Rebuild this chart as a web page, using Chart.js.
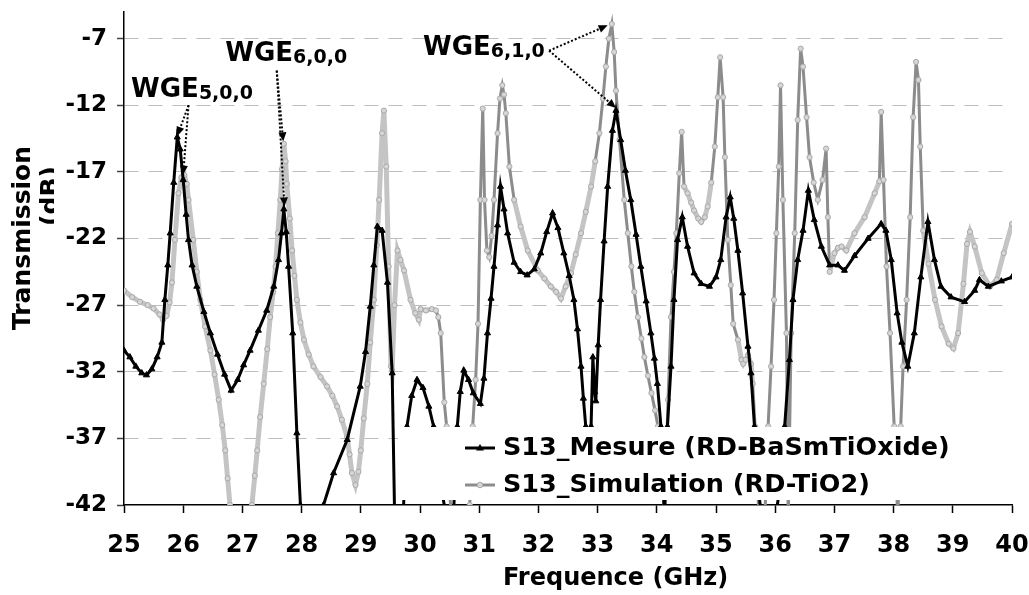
<!DOCTYPE html>
<html>
<head>
<meta charset="utf-8">
<script src="https://cdn.jsdelivr.net/npm/chart.js@4.4.1/dist/chart.umd.min.js"></script>
<style>
  body { margin: 0; background: #fff; }
  canvas { display: block; }
</style>
</head>
<body>
<canvas id="s13-chart" width="1029" height="595"></canvas>
<script>
var mesureFreq = [
    25.00, 25.10, 25.20, 25.30, 25.38, 25.47, 25.56, 25.64, 25.69, 25.74,
    25.78, 25.84, 25.90, 25.95, 26.00, 26.05, 26.09, 26.15, 26.23, 26.35,
    26.46, 26.58, 26.70, 26.81, 26.92, 27.02, 27.13, 27.27, 27.41, 27.53,
    27.61, 27.66, 27.70, 27.74, 27.78, 27.85, 27.92, 27.98, 28.10, 28.25,
    28.37, 28.54, 28.77, 28.99, 29.08, 29.16, 29.22, 29.28, 29.36, 29.45,
    29.53, 29.57, 29.65, 29.72, 29.78, 29.86, 29.95, 30.05, 30.15, 30.23,
    30.33, 30.43, 30.50, 30.57, 30.63, 30.68, 30.74, 30.82, 30.90, 31.02,
    31.08, 31.14, 31.20, 31.25, 31.31, 31.36, 31.42, 31.48, 31.59, 31.70,
    31.81, 31.93, 32.04, 32.14, 32.24, 32.33, 32.43, 32.52, 32.60, 32.66,
    32.72, 32.76, 32.80, 32.84, 32.89, 32.92, 32.95, 32.97, 33.01, 33.05,
    33.11, 33.17, 33.25, 33.31, 33.39, 33.47, 33.56, 33.65, 33.73, 33.82,
    33.90, 33.96, 34.01, 34.07, 34.13, 34.18, 34.24, 34.29, 34.35, 34.43,
    34.52, 34.63, 34.75, 34.89, 35.00, 35.08, 35.17, 35.24, 35.30, 35.37,
    35.45, 35.54, 35.59, 35.65, 35.72, 35.80, 35.92, 36.02, 36.10, 36.16,
    36.24, 36.30, 36.38, 36.47, 36.56, 36.66, 36.78, 36.92, 37.06, 37.17,
    37.34, 37.57, 37.79, 37.87, 37.96, 38.06, 38.14, 38.24, 38.35, 38.46,
    38.58, 38.69, 38.80, 38.97, 39.20, 39.37, 39.45, 39.60, 39.82, 40.00
];
var mesureDb = [
    -30.4, -30.9, -31.6, -32.1, -32.25, -31.8, -30.9, -29.8, -26.6, -24.0,
    -21.6, -17.8, -14.4, -15.3, -17.6, -20.2, -22.1, -24.0, -25.6, -27.5,
    -29.1, -30.7, -32.2, -33.4, -32.6, -31.5, -30.4, -28.9, -27.4, -25.6,
    -23.6, -21.6, -19.8, -21.5, -24.1, -29.1, -36.6, -42.0, -46.0, -46.0,
    -42.0, -39.6, -37.1, -33.1, -30.5, -27.1, -24.0, -21.1, -21.4, -25.3,
    -32.1, -42.5, -45.0, -42.3, -36.1, -33.8, -32.6, -33.2, -34.6, -36.1,
    -40.0, -42.5, -44.0, -42.3, -36.1, -33.5, -31.9, -32.6, -33.6, -34.4,
    -32.5, -29.1, -26.5, -24.1, -21.0, -18.1, -19.8, -21.6, -23.8, -24.5,
    -24.75, -24.3, -23.1, -21.5, -20.1, -21.2, -23.1, -24.8, -26.6, -28.8,
    -31.6, -34.0, -36.1, -41.0, -36.1, -30.9, -33.5, -34.2, -30.0, -26.6,
    -22.2, -18.1, -13.9, -12.4, -14.6, -16.9, -19.1, -21.7, -24.1, -26.7,
    -29.1, -31.0, -32.9, -36.1, -43.0, -36.1, -31.6, -26.6, -22.1, -20.4,
    -22.6, -24.6, -25.4, -25.6, -24.9, -23.6, -20.4, -18.9, -20.5, -22.9,
    -26.1, -30.1, -32.1, -36.1, -41.0, -44.0, -46.0, -42.5, -40.0, -36.1,
    -31.1, -26.6, -23.6, -21.4, -18.4, -20.6, -22.6, -24.0, -24.0, -24.4,
    -23.3, -22.0, -20.9, -21.4, -23.6, -27.6, -29.8, -31.6, -29.1, -24.9,
    -20.75, -23.6, -25.6, -26.4, -26.75, -25.9, -25.1, -25.6, -25.2, -24.9
];

// S13 simulated (RD-TiO2)
var simFreq = [
    25.00, 25.14, 25.27, 25.40, 25.50, 25.60, 25.66, 25.72, 25.77, 25.81,
    25.86, 25.92, 25.97, 26.02, 26.06, 26.09, 26.17, 26.23, 26.29, 26.37,
    26.46, 26.53, 26.60, 26.66, 26.71, 26.75, 26.79, 26.90, 27.05, 27.16,
    27.21, 27.25, 27.30, 27.36, 27.42, 27.47, 27.52, 27.56, 27.60, 27.64,
    27.67, 27.70, 27.73, 27.75, 27.80, 27.84, 27.88, 27.92, 27.98, 28.04,
    28.12, 28.20, 28.32, 28.43, 28.52, 28.60, 28.68, 28.77, 28.81, 28.85,
    28.91, 28.96, 29.00, 29.05, 29.11, 29.16, 29.22, 29.27, 29.31, 29.36,
    29.39, 29.43, 29.47, 29.51, 29.53, 29.57, 29.62, 29.67, 29.73, 29.84,
    29.92, 29.98, 30.01, 30.10, 30.20, 30.27, 30.31, 30.35, 30.41, 30.45,
    30.50, 30.55, 30.70, 30.84, 30.89, 30.94, 30.98, 31.02, 31.06, 31.09,
    31.13, 31.17, 31.21, 31.25, 31.31, 31.35, 31.39, 31.42, 31.45, 31.51,
    31.59, 31.70, 31.82, 31.99, 32.10, 32.21, 32.30, 32.38, 32.46, 32.55,
    32.63, 32.72, 32.80, 32.89, 32.96, 33.03, 33.09, 33.14, 33.19, 33.24,
    33.28, 33.31, 33.37, 33.45, 33.51, 33.57, 33.62, 33.68, 33.74, 33.79,
    33.85, 33.91, 33.97, 34.02, 34.08, 34.13, 34.19, 34.24, 34.29, 34.33,
    34.38, 34.42, 34.46, 34.52, 34.58, 34.63, 34.70, 34.75, 34.81, 34.86,
    34.92, 34.98, 35.03, 35.07, 35.12, 35.15, 35.20, 35.25, 35.29, 35.37,
    35.43, 35.46, 35.50, 35.54, 35.59, 35.62, 35.66, 35.72, 35.78, 35.83,
    35.88, 35.93, 35.98, 36.02, 36.06, 36.09, 36.13, 36.19, 36.22, 36.27,
    36.33, 36.38, 36.43, 36.47, 36.53, 36.58, 36.65, 36.72, 36.80, 36.86,
    36.89, 36.92, 37.00, 37.06, 37.12, 37.20, 37.34, 37.51, 37.68, 37.76,
    37.79, 37.83, 37.88, 37.94, 38.01, 38.07, 38.12, 38.16, 38.22, 38.28,
    38.33, 38.38, 38.42, 38.45, 38.50, 38.59, 38.70, 38.81, 38.93, 39.01,
    39.09, 39.18, 39.24, 39.29, 39.37, 39.49, 39.63, 39.74, 39.86, 40.00
];
var simDb = [
    -25.9, -26.4, -26.75, -27.0, -27.25, -27.7, -28.1, -27.8, -26.8, -25.3,
    -22.1, -18.6, -17.4, -17.25, -17.9, -19.1, -22.1, -24.5, -26.6, -28.6,
    -30.4, -32.2, -34.1, -36.0, -37.9, -40.0, -42.0, -48.0, -48.0, -42.0,
    -39.8, -37.9, -35.4, -32.9, -30.3, -27.9, -26.0, -24.1, -21.6, -19.1,
    -16.8, -14.9, -16.2, -17.9, -20.5, -22.9, -24.8, -26.6, -28.3, -29.6,
    -30.7, -31.6, -32.4, -33.1, -33.8, -34.6, -35.6, -36.9, -38.2, -39.6,
    -40.5, -39.5, -37.9, -35.5, -32.9, -29.8, -26.6, -22.5, -19.1, -14.1,
    -12.4, -16.6, -24.1, -31.6, -31.9, -27.0, -22.9, -23.6, -24.4, -26.6,
    -27.6, -28.1, -27.3, -27.4, -27.3, -27.4, -27.9, -29.1, -34.3, -36.1,
    -41.0, -44.0, -47.0, -42.0, -36.1, -32.6, -28.4, -19.1, -12.25, -19.1,
    -22.9, -23.4, -21.8, -19.1, -14.1, -11.5, -10.5, -11.2, -12.6, -16.6,
    -19.1, -21.1, -22.9, -24.4, -25.0, -25.6, -26.0, -26.5, -25.6, -24.6,
    -23.2, -21.6, -20.0, -18.1, -16.2, -14.1, -11.5, -9.1, -7.0, -5.9,
    -8.0, -10.9, -14.6, -19.1, -21.6, -24.1, -26.0, -27.9, -29.5, -30.9,
    -32.3, -33.6, -34.9, -36.1, -40.0, -42.5, -34.1, -27.9, -24.5, -21.6,
    -17.1, -14.0, -18.1, -18.6, -19.3, -19.9, -20.5, -20.75, -20.4, -19.6,
    -17.8, -15.1, -11.4, -8.4, -11.4, -15.9, -22.1, -25.5, -28.4, -29.6,
    -31.1, -31.4, -31.1, -30.75, -31.4, -32.9, -36.1, -42.3, -46.0, -42.3,
    -36.1, -31.6, -26.6, -21.6, -16.6, -10.5, -19.1, -29.1, -43.0, -29.1,
    -21.6, -13.1, -7.75, -9.1, -12.9, -15.9, -17.8, -19.1, -17.6, -15.25,
    -20.4, -24.5, -23.1, -22.7, -22.6, -22.9, -21.6, -20.4, -18.6, -17.7,
    -12.5, -17.6, -24.1, -29.1, -36.1, -43.0, -36.1, -31.6, -26.6, -20.4,
    -12.9, -8.75, -10.1, -15.1, -21.4, -23.9, -26.6, -28.6, -29.9, -30.25,
    -29.1, -25.4, -22.4, -21.5, -22.6, -24.6, -25.6, -25.1, -23.1, -20.9
];

var freqTicks = [25, 26, 27, 28, 29, 30, 31, 32, 33, 34, 35, 36, 37, 38, 39, 40];
var dbTicks = [-42, -37, -32, -27, -22, -17, -12, -7];

// where the simulated trace is densely sampled it reads as a wide pale band
var paleSimRanges = [[25, 30.3], [31.55, 33.0], [34.45, 34.95], [35.3, 35.62], [36.9, 37.77], [38.48, 40]];

function isPale(x0, x1) {
    for (var i = 0; i < paleSimRanges.length; i++) {
        if (x0 >= paleSimRanges[i][0] && x1 <= paleSimRanges[i][1]) return true;
    }
    return false;
}

function toPoints(xs, ys) {
    return xs.map(function (x, i) { return { x: x, y: ys[i] }; });
}

var FONT = 'DejaVu Sans';
Chart.defaults.font.family = FONT;
Chart.defaults.color = '#000';

// labels with dotted arrows pointing at the resonance peaks (data coords)
var modeLabels = [
    { main: 'WGE', sub: '5,0,0', at: [25.12, -11.4], from: [26.09, -12.0], to: [[25.90, -14.3], [26.00, -17.2]] },
    { main: 'WGE', sub: '6,0,0', at: [26.71, -8.7], from: [27.58, -9.4], to: [[27.69, -14.7], [27.71, -19.6]] },
    { main: 'WGE', sub: '6,1,0', at: [30.05, -8.25], from: [32.18, -7.9], to: [[33.17, -6.0], [33.31, -12.2]] }
];

function dottedArrow(ctx, x1, y1, x2, y2) {
    var ang = Math.atan2(y2 - y1, x2 - x1);
    var head = 9;
    var bx = x2 - head * Math.cos(ang), by = y2 - head * Math.sin(ang);
    ctx.save();
    ctx.strokeStyle = '#000';
    ctx.lineWidth = 2;
    ctx.setLineDash([2, 2]);
    ctx.beginPath();
    ctx.moveTo(x1, y1);
    ctx.lineTo(bx, by);
    ctx.stroke();
    ctx.setLineDash([]);
    ctx.fillStyle = '#000';
    ctx.beginPath();
    ctx.moveTo(x2, y2);
    ctx.lineTo(bx + 4 * Math.sin(ang), by - 4 * Math.cos(ang));
    ctx.lineTo(bx - 4 * Math.sin(ang), by + 4 * Math.cos(ang));
    ctx.closePath();
    ctx.fill();
    ctx.restore();
}

var extrasPlugin = {
    id: 'extras',
    afterDatasetsDraw: function (chart) {
        var ctx = chart.ctx, xs = chart.scales.x, ys = chart.scales.y, area = chart.chartArea;

        // legend box inside the plot, hiding the curves behind it
        var lx = 398, ly = 427, lb = 500;
        ctx.save();
        ctx.fillStyle = '#fff';
        ctx.fillRect(lx, ly, area.right - lx, lb - ly);

        var rows = [
            { y: 448, text: 'S13_Mesure (RD-BaSmTiOxide)', line: '#000', marker: 'tri' },
            { y: 485, text: 'S13_Simulation (RD-TiO2)', line: '#8c8c8c', marker: 'dot' }
        ];
        rows.forEach(function (r) {
            ctx.strokeStyle = r.line;
            ctx.lineWidth = 3;
            ctx.beginPath();
            ctx.moveTo(465, r.y);
            ctx.lineTo(495, r.y);
            ctx.stroke();
            if (r.marker === 'tri') {
                ctx.fillStyle = '#000';
                ctx.beginPath();
                ctx.moveTo(480, r.y - 4);
                ctx.lineTo(484, r.y + 2.5);
                ctx.lineTo(476, r.y + 2.5);
                ctx.closePath();
                ctx.fill();
            } else {
                ctx.fillStyle = '#d6d6d6';
                ctx.strokeStyle = '#a8a8a8';
                ctx.lineWidth = 1;
                ctx.beginPath();
                ctx.arc(480, r.y, 2.8, 0, Math.PI * 2);
                ctx.fill();
                ctx.stroke();
            }
            ctx.fillStyle = '#000';
            ctx.font = 'bold 25.5px ' + FONT;
            ctx.textAlign = 'left';
            ctx.textBaseline = 'middle';
            ctx.fillText(r.text, 503, r.y);
        });
        ctx.restore();

        // mode labels and arrows
        modeLabels.forEach(function (m) {
            var tx = xs.getPixelForValue(m.at[0]), ty = ys.getPixelForValue(m.at[1]);
            ctx.save();
            ctx.fillStyle = '#000';
            ctx.textAlign = 'left';
            ctx.textBaseline = 'alphabetic';
            ctx.font = 'bold 26px ' + FONT;
            ctx.fillText(m.main, tx, ty);
            var w = ctx.measureText(m.main).width;
            ctx.font = 'bold 19px ' + FONT;
            ctx.fillText(m.sub, tx + w, ty + 2);
            ctx.restore();
            var fx = xs.getPixelForValue(m.from[0]), fy = ys.getPixelForValue(m.from[1]);
            m.to.forEach(function (t) {
                dottedArrow(ctx, fx, fy, xs.getPixelForValue(t[0]), ys.getPixelForValue(t[1]));
            });
        });
    },
    afterDraw: function (chart) {
        var ctx = chart.ctx;
        ctx.save();
        ctx.fillStyle = '#000';
        ctx.font = 'bold 24px ' + FONT;
        ctx.textAlign = 'left';
        ctx.textBaseline = 'middle';
        ctx.fillText('Frequence (GHz)', 503, 579);

        ctx.font = 'bold 25px ' + FONT;
        ctx.textAlign = 'center';
        ctx.translate(23, 238);
        ctx.rotate(-Math.PI / 2);
        ctx.fillText('Transmission', 0, 0);
        ctx.restore();

        // second title line is partly hidden by the tick labels
        ctx.save();
        ctx.beginPath();
        ctx.rect(30, 150, 24, 90);
        ctx.clip();
        ctx.fillStyle = '#000';
        ctx.font = 'bold 25px ' + FONT;
        ctx.textAlign = 'center';
        ctx.textBaseline = 'middle';
        ctx.translate(51, 196);
        ctx.rotate(-Math.PI / 2);
        ctx.fillText('(dB)', 0, 0);
        ctx.restore();
    }
};

var config = {
    type: 'line',
    data: {
        datasets: [{
            label: 'S13_Mesure (RD-BaSmTiOxide)',
            data: toPoints(mesureFreq, mesureDb),
            borderColor: '#000',
            borderWidth: 3,
            pointStyle: 'triangle',
            pointRadius: 3.5,
            pointBackgroundColor: '#000',
            pointBorderColor: '#000',
            pointBorderWidth: 1,
            tension: 0
        }, {
            label: 'S13_Simulation (RD-TiO2)',
            data: toPoints(simFreq, simDb),
            borderColor: '#8c8c8c',
            borderWidth: 3,
            pointStyle: 'circle',
            pointRadius: 2.6,
            pointBackgroundColor: '#d6d6d6',
            pointBorderColor: '#a8a8a8',
            pointBorderWidth: 1,
            tension: 0,
            segment: {
                borderColor: function (c) { return isPale(c.p0.parsed.x, c.p1.parsed.x) ? '#c4c4c4' : '#8c8c8c'; },
                borderWidth: function (c) { return isPale(c.p0.parsed.x, c.p1.parsed.x) ? 5 : 3; }
            }
        }]
    },
    options: {
        responsive: false,
        devicePixelRatio: 1,
        animation: false,
        layout: { padding: { top: 12, right: 0, left: 0, bottom: 0 } },
        plugins: {
            legend: { display: false },
            tooltip: { enabled: false }
        },
        scales: {
            x: {
                type: 'linear',
                min: 25,
                max: 40,
                afterBuildTicks: function (scale) {
                    scale.ticks = freqTicks.map(function (v) { return { value: v }; });
                },
                afterFit: function (scale) {
                    scale.height = 90;
                    scale.paddingLeft = 0;
                    scale.paddingRight = 17;
                },
                ticks: {
                    font: { size: 24, weight: 'bold' },
                    color: '#000',
                    padding: 18,
                    maxRotation: 0,
                    autoSkip: false
                },
                grid: {
                    drawOnChartArea: false,
                    drawTicks: true,
                    tickLength: 8,
                    tickColor: '#000',
                    tickWidth: 1.5
                },
                border: { color: '#000', width: 1.5 }
            },
            y: {
                type: 'linear',
                min: -42,
                max: -5,
                afterBuildTicks: function (scale) {
                    scale.ticks = dbTicks.map(function (v) { return { value: v }; });
                },
                afterFit: function (scale) {
                    scale.width = 124;
                    scale.paddingTop = 0;
                    scale.paddingBottom = 0;
                },
                ticks: {
                    font: { size: 23, weight: 'bold' },
                    color: '#000',
                    padding: 10,
                    autoSkip: false
                },
                grid: {
                    color: function (c) { return c.tick && c.tick.value === -42 ? 'rgba(0,0,0,0)' : '#bdbdbd'; },
                    lineWidth: 1,
                    tickLength: 7,
                    tickColor: '#444',
                    tickWidth: 1.5,
                    tickBorderDash: []
                },
                border: { color: '#000', width: 1.5, dash: [14, 10] }
            }
        }
    },
    plugins: [extrasPlugin]
};

new Chart(document.getElementById('s13-chart').getContext('2d'), config);
</script>
</body>
</html>
